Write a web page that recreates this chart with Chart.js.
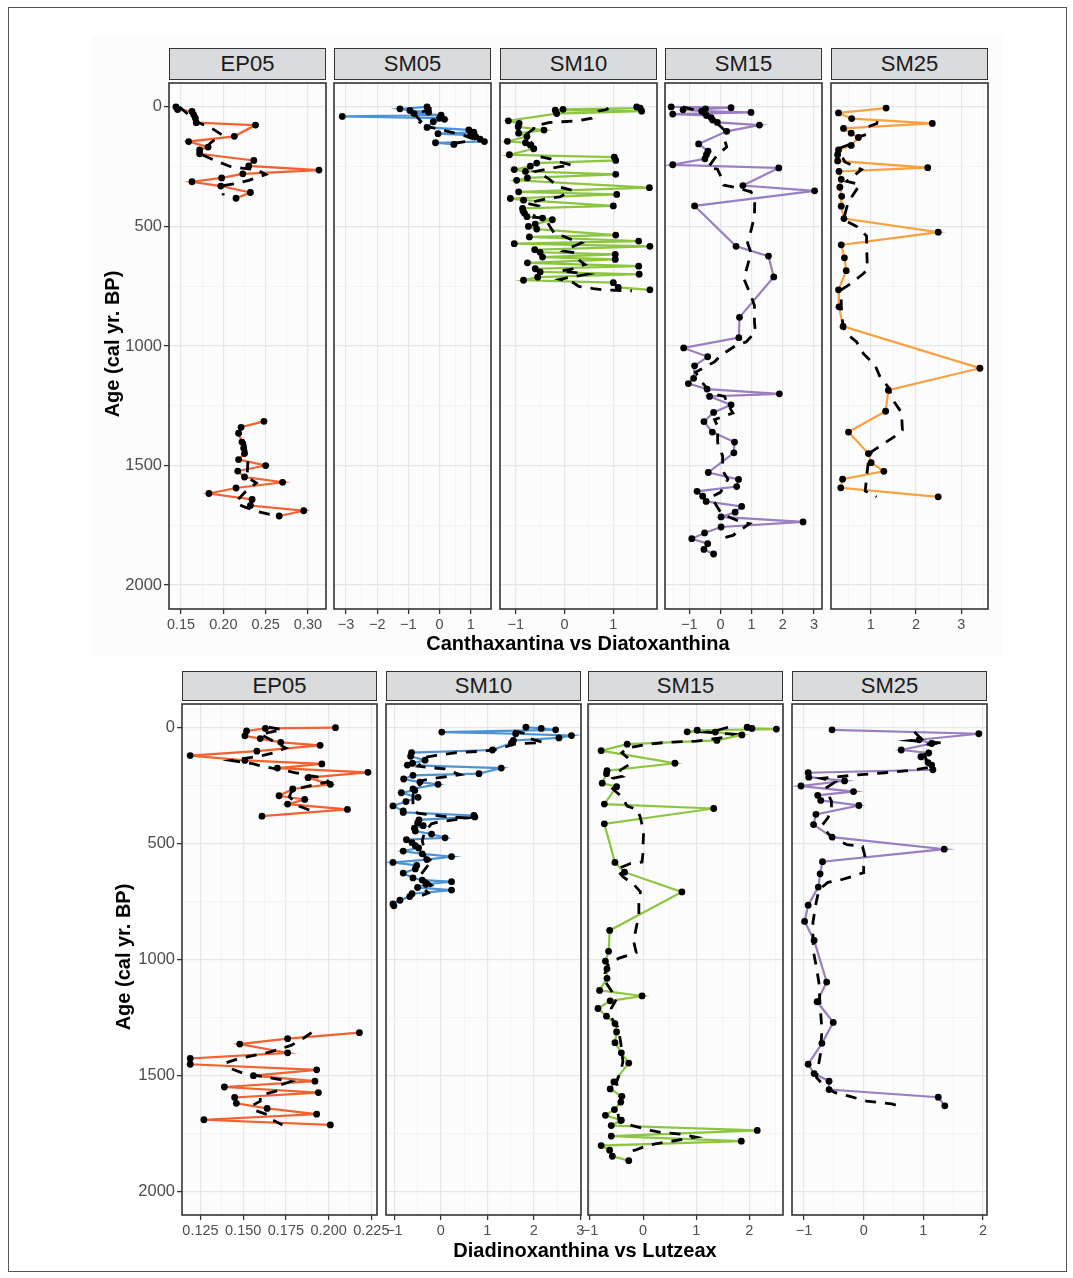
<!DOCTYPE html>
<html>
<head>
<meta charset="utf-8">
<script src="https://cdn.jsdelivr.net/npm/chart.js@4.4.1/dist/chart.umd.min.js"></script>
<style>
  body { margin: 0; background: #fff; font-family: "Liberation Sans", Arial, Helvetica, sans-serif; }
  #fig { position: relative; width: 1073px; height: 1278px; overflow: hidden; }
  .frame { position: absolute; left: 8px; top: 7px; width: 1057px; height: 1263px; border: 1px solid #555; }
  .strip { position: absolute; background: #d9dbdc; border: 1.5px solid #333; box-sizing: border-box;
           text-align: center; font-size: 22px; color: #1a1a1a; }
  .title { position: absolute; font-weight: bold; font-size: 20px; color: #000; text-align: center;
           height: 24px; line-height: 24px; white-space: nowrap; }
  canvas { position: absolute; }
</style>
</head>
<body>
<div id="fig">
  <div class="frame"></div>
  <div style="position:absolute;left:92px;top:35px;width:911px;height:622px;background:#fcfcfc"></div>
</div>
<script>
/* shared age axis */
var AGE_TICKS = [0, 500, 1000, 1500, 2000];
var AGE_RANGE = [-100, 2100];

var TOP_TITLE = 'Canthaxantina vs Diatoxanthina';
var BOT_TITLE = 'Diadinoxanthina vs Lutzeax';
var Y_TITLE   = 'Age (cal yr. BP)';

var TOP_SITES = ['EP05', 'SM05', 'SM10', 'SM15', 'SM25'];
var BOT_SITES = ['EP05', 'SM10', 'SM15', 'SM25'];

/* x tick labels per panel */
var T_EP05_TICKS = [0.15, 0.20, 0.25, 0.30];
var T_SM05_TICKS = [-3, -2, -1, 0, 1];
var T_SM10_TICKS = [-1, 0, 1];
var T_SM15_TICKS = [-1, 0, 1, 2, 3];
var T_SM25_TICKS = [1, 2, 3];
var B_EP05_TICKS = [0.125, 0.150, 0.175, 0.200, 0.225];
var B_SM10_TICKS = [-1, 0, 1, 2, 3];
var B_SM15_TICKS = [-1, 0, 1, 2];
var B_SM25_TICKS = [-1, 0, 1, 2];

/* ---- top row: Canthaxantina vs Diatoxanthina, [age, value] ---- */
var T_EP05_A = [[0,0.144],[11,0.146],[19,0.163],[33,0.165],[47,0.167],[66,0.168],[76,0.238],[123,0.213],[145,0.159],
  [168,0.182],[180,0.172],[196,0.172],[224,0.236],[247,0.230],[264,0.313],[280,0.223],[297,0.198],[313,0.163],
  [331,0.197],[358,0.232],[382,0.215]];
var T_EP05_B = [[1315,0.248],[1340,0.221],[1365,0.218],[1402,0.222],[1427,0.224],[1450,0.225],[1475,0.218],
  [1500,0.250],[1523,0.217],[1548,0.225],[1570,0.270],[1594,0.215],[1617,0.183],[1642,0.234],[1667,0.232],
  [1689,0.295],[1711,0.266]];
var T_EP05_FIT_A = [[0,0.148],[30,0.158],[60,0.167],[93,0.188],[116,0.198],[150,0.185],[170,0.180],[200,0.175],
  [224,0.190],[249,0.208],[256,0.222],[262,0.239],[283,0.250],[307,0.230],[320,0.216],[330,0.198],[370,0.200]];
var T_EP05_FIT_B = [[1400,0.225],[1486,0.229],[1548,0.228],[1573,0.239],[1610,0.226],[1640,0.218],[1656,0.215],
  [1672,0.224],[1693,0.241],[1714,0.267]];

var T_SM05 = [[0,-0.40],[8,-1.27],[15,-0.95],[22,-0.35],[28,-0.82],[34,0.05],[40,-3.12],[47,0.00],[52,0.16],
  [62,-0.20],[86,-0.40],[96,0.94],[106,1.10],[112,-0.05],[118,1.00],[124,1.16],[135,1.30],[145,1.44],[150,-0.13],[157,0.46]];
var T_SM05_FIT = [[0,-0.30],[10,-0.30],[30,-0.80],[60,-0.60],[75,-0.70],[85,-0.30],[100,0.20],[120,0.80],
  [135,1.10],[145,0.80],[152,0.50]];

var T_SM10 = [[0,1.48],[5,1.55],[10,-0.03],[14,-0.19],[18,1.58],[28,-0.16],[58,-1.15],[69,-0.93],[83,-0.95],
  [97,-0.42],[110,-0.94],[124,-0.77],[144,-1.17],[150,-0.80],[160,-0.70],[175,-0.63],[200,-1.13],[210,1.02],
  [224,1.05],[235,-0.57],[248,-0.70],[262,-1.03],[270,-0.80],[282,1.05],[297,-0.76],[307,-0.98],[338,1.74],
  [355,-0.94],[366,1.07],[383,-1.11],[390,-0.84],[414,1.00],[424,-0.86],[435,-0.85],[445,-0.82],[459,-0.77],
  [465,-0.45],[472,-0.25],[490,-0.60],[500,-0.74],[511,-0.57],[536,1.05],[544,-0.72],[561,1.52],[572,-1.03],
  [583,1.75],[597,-0.61],[608,-0.50],[617,1.04],[628,-0.45],[638,1.04],[652,-0.76],[666,1.52],[677,-0.60],
  [690,-0.50],[700,1.53],[712,-0.55],[725,-0.84],[735,1.00],[755,1.10],[765,1.75]];
var T_SM10_FIT = [[5,0.90],[12,0.85],[17,0.70],[47,0.56],[58,0.29],[62,-0.05],[65,-0.30],[80,-0.63],[92,-0.63],
  [113,-0.77],[134,-0.77],[155,-0.65],[182,-0.65],[207,-0.53],[217,-0.29],[230,-0.10],[244,0.15],[250,-0.09],
  [262,-0.40],[270,-0.60],[286,-0.43],[300,-0.33],[334,-0.12],[348,0.15],[376,-0.09],[383,-0.33],[403,-0.77],
  [414,-0.53],[440,-0.60],[461,-0.63],[465,-0.40],[500,-0.30],[534,-0.19],[541,-0.02],[562,0.22],[569,0.34],
  [590,0.10],[603,-0.02],[610,0.22],[645,0.32],[659,0.42],[680,0.12],[686,-0.09],[693,0.22],[700,0.46],
  [715,0.05],[721,-0.09],[735,0.18],[751,0.29],[760,0.59],[766,0.83],[769,1.38]];

var T_SM15 = [[0,-1.58],[3,0.34],[8,-0.48],[12,-1.20],[18,-0.60],[23,0.98],[30,-1.53],[36,-0.45],[45,-0.30],
  [55,-0.25],[65,-0.10],[76,1.25],[102,0.20],[155,-0.70],[185,-0.40],[200,-0.45],[217,-0.50],[242,-1.53],
  [255,1.87],[329,0.72],[351,3.02],[414,-0.83],[583,0.50],[624,1.54],[711,1.71],[880,0.61],[965,0.59],
  [1008,-1.18],[1045,-0.41],[1083,-0.83],[1135,-0.86],[1157,-1.03],[1180,-0.43],[1200,1.89],[1211,-0.35],
  [1246,0.34],[1278,-0.22],[1316,-0.53],[1360,-0.26],[1402,0.45],[1447,0.43],[1529,-0.39],[1558,0.58],
  [1588,0.52],[1608,-0.75],[1628,-0.57],[1650,-0.46],[1671,0.68],[1695,0.47],[1715,0.02],[1736,2.65],
  [1757,0.02],[1782,-0.51],[1806,-0.92],[1827,-0.41],[1851,-0.53],[1870,-0.22]];
var T_SM15_FIT = [[0,-1.20],[10,-0.90],[40,-0.40],[70,-0.10],[100,0.15],[134,0.13],[168,0.20],[200,-0.10],
  [254,-0.40],[260,-0.10],[300,0.05],[327,0.10],[337,0.47],[355,0.98],[392,1.10],[456,1.09],[507,1.00],
  [569,0.87],[610,0.98],[663,0.87],[718,0.75],[790,0.98],[831,1.09],[898,1.09],[942,1.12],[983,0.82],
  [1000,0.47],[1038,0.02],[1066,-0.19],[1110,-0.80],[1150,-0.60],[1198,-0.30],[1211,0.13],[1246,0.24],
  [1280,0.40],[1308,-0.19],[1336,-0.09],[1405,-0.09],[1460,0.07],[1522,0.07],[1557,0.24],[1612,0.00],
  [1632,-0.30],[1688,-0.03],[1708,0.13],[1736,0.66],[1743,0.93],[1792,0.40],[1806,0.00]];

var T_SM25 = [[5,1.34],[25,0.29],[49,0.58],[69,2.36],[90,0.40],[110,0.57],[128,0.73],[161,0.57],[180,0.29],
  [200,0.27],[226,0.27],[254,2.26],[270,0.30],[303,0.35],[336,0.32],[374,0.36],[415,0.35],[467,0.41],
  [524,2.49],[577,0.35],[631,0.42],[685,0.46],[765,0.29],[836,0.30],[918,0.39],[1093,3.41],[1185,1.39],
  [1273,1.33],[1360,0.51],[1450,0.95],[1488,1.01],[1524,1.29],[1557,0.38],[1593,0.34],[1631,2.49]];
var T_SM25_FIT = [[60,1.15],[70,1.13],[82,0.95],[115,0.91],[128,0.69],[156,0.54],[172,0.32],[200,0.35],
  [230,0.43],[262,0.80],[311,0.47],[325,0.76],[400,0.50],[472,0.40],[500,0.69],[540,0.91],[590,0.91],
  [680,0.93],[697,0.84],[737,0.58],[765,0.35],[836,0.35],[900,0.38],[942,0.43],[983,0.69],[1032,0.84],
  [1082,1.10],[1131,1.21],[1172,1.39],[1229,1.50],[1278,1.68],[1352,1.70],[1377,1.54],[1409,1.28],
  [1442,1.02],[1480,0.95],[1530,0.92],[1606,0.88],[1631,1.13]];

/* ---- bottom row: Diadinoxanthina vs Lutzeax, [age, value] ---- */
var B_EP05_A = [[2,0.204],[5,0.163],[16,0.152],[37,0.151],[49,0.160],[65,0.172],[78,0.195],[103,0.158],
  [122,0.119],[143,0.151],[158,0.196],[176,0.170],[194,0.223],[217,0.188],[246,0.201],[266,0.179],
  [295,0.171],[311,0.186],[331,0.176],[354,0.211],[383,0.161]];
var B_EP05_B = [[1315,0.218],[1341,0.176],[1364,0.148],[1402,0.176],[1426,0.119],[1451,0.119],[1475,0.193],
  [1500,0.156],[1524,0.192],[1549,0.139],[1573,0.194],[1594,0.145],[1619,0.146],[1641,0.164],[1666,0.193],
  [1690,0.127],[1712,0.201]];
var B_EP05_FIT_A = [[0,0.165],[11,0.173],[30,0.160],[50,0.165],[70,0.170],[90,0.175],[110,0.168],[122,0.161],
  [135,0.150],[143,0.143],[158,0.156],[168,0.161],[180,0.170],[195,0.180],[210,0.190],[220,0.198],[235,0.200],
  [250,0.190],[262,0.183],[280,0.178],[300,0.177],[320,0.180],[340,0.183],[360,0.190]];
var B_EP05_FIT_B = [[1315,0.190],[1340,0.185],[1370,0.178],[1400,0.165],[1425,0.148],[1445,0.140],[1470,0.143],
  [1490,0.150],[1505,0.162],[1525,0.178],[1545,0.170],[1565,0.170],[1585,0.160],[1610,0.160],[1630,0.155],
  [1650,0.157],[1670,0.165],[1690,0.167],[1712,0.173]];

var B_SM10 = [[0,1.83],[5,2.16],[11,2.47],[21,0.02],[28,1.61],[36,2.81],[46,2.54],[57,1.56],[68,1.52],[98,1.11],
  [109,-0.63],[125,-0.65],[142,-0.34],[155,-0.61],[163,-0.72],[176,1.30],[200,0.82],[207,-0.60],[223,-0.80],
  [236,-0.45],[246,-0.06],[265,-0.60],[272,-0.56],[282,-0.85],[302,-0.49],[320,-0.75],[339,-1.03],[360,-0.81],
  [367,-0.81],[380,0.71],[386,0.73],[399,-0.47],[412,-0.50],[424,-0.38],[435,-0.57],[447,-0.55],[460,-0.20],
  [476,0.09],[484,-0.74],[497,-0.62],[510,-0.55],[520,-0.48],[533,-0.81],[545,-0.40],[557,0.23],[570,-0.30],
  [582,-1.03],[595,-0.52],[610,-0.55],[628,-0.81],[649,-0.60],[658,-0.40],[665,0.23],[676,-0.32],[690,-0.50],
  [701,0.23],[717,-0.62],[729,-0.67],[745,-0.88],[761,-1.03],[769,-1.01]];
var B_SM10_FIT = [[16,1.57],[28,1.84],[49,1.91],[65,2.20],[73,1.56],[93,1.27],[103,0.91],[109,0.34],[122,-0.13],
  [130,-0.34],[150,-0.40],[168,-0.49],[174,-0.24],[179,0.09],[204,0.41],[220,-0.13],[228,-0.38],[260,-0.50],
  [290,-0.60],[320,-0.60],[350,-0.60],[370,-0.50],[383,0.01],[391,0.55],[408,-0.06],[416,-0.20],[450,-0.35],
  [490,-0.40],[530,-0.35],[566,-0.34],[574,-0.16],[600,-0.30],[640,-0.45],[680,-0.20],[693,-0.38],[714,-0.27],[725,-0.42]];

var B_SM15 = [[0,1.96],[5,2.05],[8,2.51],[13,1.02],[20,0.83],[21,1.36],[33,1.86],[57,1.39],[73,-0.30],[101,-0.79],
  [155,0.60],[187,-0.68],[200,-0.69],[241,-0.77],[256,-0.50],[331,-0.73],[350,1.33],[416,-0.73],[582,-0.53],
  [624,-0.35],[709,0.73],[875,-0.63],[965,-0.65],[1007,-0.71],[1040,-0.68],[1081,-0.68],[1133,-0.82],[1157,-0.02],
  [1178,-0.62],[1211,-0.85],[1244,-0.69],[1276,-0.53],[1312,-0.50],[1358,-0.53],[1402,-0.41],[1446,-0.27],
  [1527,-0.55],[1557,-0.62],[1589,-0.40],[1614,-0.42],[1646,-0.54],[1671,-0.71],[1692,-0.41],[1715,-0.60],
  [1736,2.15],[1760,-0.60],[1782,1.85],[1801,-0.79],[1821,-0.63],[1847,-0.58],[1866,-0.27]];
var B_SM15_FIT = [[0,1.60],[13,1.40],[21,1.20],[30,1.70],[45,1.50],[60,1.00],[65,0.45],[73,0.08],[90,-0.30],
  [110,-0.40],[130,-0.30],[147,-0.24],[158,-0.24],[180,-0.40],[200,-0.50],[212,-0.40],[220,-0.58],[260,-0.60],
  [300,-0.40],[340,-0.30],[355,-0.10],[391,-0.05],[448,0.01],[505,0.00],[538,0.00],[580,-0.02],[587,-0.24],
  [611,-0.50],[644,-0.38],[676,-0.18],[709,-0.05],[758,-0.08],[807,-0.08],[920,-0.18],[970,-0.13],[994,-0.45],
  [1019,-0.65],[1060,-0.72],[1100,-0.70],[1150,-0.55],[1170,-0.50],[1210,-0.60],[1250,-0.60],[1290,-0.48],
  [1320,-0.45],[1360,-0.42],[1400,-0.40],[1440,-0.38],[1480,-0.42],[1527,-0.50],[1557,-0.48],[1600,-0.42],
  [1650,-0.48],[1700,-0.45],[1736,0.14],[1745,0.36],[1752,0.70],[1765,0.99],[1793,0.26],[1801,0.08],
  [1821,-0.15],[1830,-0.35]];

var B_SM25 = [[11,-0.53],[28,1.93],[54,0.93],[70,1.14],[98,0.63],[111,1.09],[127,0.96],[152,1.08],[163,1.14],
  [183,1.16],[196,-0.93],[215,-0.92],[231,-0.32],[253,-1.05],[277,-0.17],[293,-0.77],[315,-0.72],[337,-0.08],
  [375,-0.80],[419,-0.84],[473,-0.53],[525,1.35],[579,-0.69],[631,-0.73],[688,-0.76],[766,-0.93],[836,-0.99],
  [918,-0.83],[1097,-0.62],[1182,-0.78],[1271,-0.51],[1361,-0.70],[1451,-0.93],[1491,-0.83],[1524,-0.58],
  [1560,-0.58],[1593,1.25],[1630,1.36]];
var B_SM25_FIT = [[20,0.85],[51,0.97],[57,0.79],[68,1.34],[73,1.08],[100,1.00],[140,1.05],[171,1.14],[185,0.80],
  [196,0.36],[205,-0.10],[215,-0.50],[220,-0.70],[236,-0.48],[260,-0.62],[277,-0.62],[318,-0.54],[359,-0.54],
  [390,-0.60],[424,-0.70],[456,-0.60],[481,-0.50],[505,-0.28],[513,-0.02],[554,0.02],[600,0.00],[626,0.00],
  [643,-0.20],[660,-0.42],[668,-0.60],[700,-0.75],[760,-0.80],[840,-0.85],[900,-0.85],[970,-0.84],[1035,-0.79],
  [1100,-0.75],[1200,-0.73],[1300,-0.70],[1400,-0.72],[1460,-0.76],[1508,-0.79],[1548,-0.65],[1573,-0.48],
  [1589,-0.23],[1610,0.05],[1622,0.47],[1635,0.66]];

/* colours */
var C_RED = '#f2612f', C_BLUE = '#4c93d6', C_GREEN = '#8cc540', C_PURPLE = '#9b7ec1', C_ORANGE = '#f9a03f';

Chart.defaults.font.family = '"Liberation Sans", Arial, Helvetica, sans-serif';
var fig = document.getElementById('fig');

function minus(v) { return String(v).replace('-', '\u2212'); }
function fmt2(v) { return v.toFixed(2); }
function fmt3(v) { return v.toFixed(3); }
function fmtInt(v) { return minus(Math.round(v)); }

/* major ticks plus half-step minor ticks inside [lo, hi] */
function withMinor(major, lo, hi) {
  var step = (major[1] - major[0]) / 2, out = [];
  var v = major[0];
  while (v - step >= lo - 1e-9) v -= step;
  for (; v <= hi + 1e-9; v += step) out.push(Math.round(v * 1e6) / 1e6);
  return out;
}
function isMajor(list, v) {
  return list.some(function (m) { return Math.abs(m - v) < 1e-7; });
}
function toXY(arr) { return arr.map(function (p) { return { x: p[1], y: p[0] }; }); }

var panelFrame = {
  id: 'panelFrame',
  beforeDraw: function (c) {
    var a = c.chartArea, ctx = c.ctx;
    ctx.save(); ctx.fillStyle = '#fcfcfc';
    ctx.fillRect(a.left, a.top, a.right - a.left, a.bottom - a.top); ctx.restore();
  },
  afterDraw: function (c) {
    var a = c.chartArea, ctx = c.ctx;
    ctx.save(); ctx.strokeStyle = '#333'; ctx.lineWidth = 1.6;
    ctx.strokeRect(a.left, a.top, a.right - a.left, a.bottom - a.top); ctx.restore();
  }
};

function drawPanel(o) {
  var padL = o.showY ? 80 : 24, padR = 24, padB = 34;
  var W = o.w + padL + padR, H = o.h + padB;
  var cv = document.createElement('canvas');
  cv.width = W; cv.height = H;
  cv.style.left = (o.x - padL) + 'px'; cv.style.top = o.y + 'px';
  cv.style.width = W + 'px'; cv.style.height = H + 'px';
  fig.appendChild(cv);

  var strip = document.createElement('div');
  strip.className = 'strip';
  strip.style.cssText = 'left:' + o.x + 'px;top:' + o.stripTop + 'px;width:' + o.w + 'px;height:' +
    (o.y - o.stripTop + 1) + 'px;line-height:' + (o.y - o.stripTop - 2) + 'px';
  strip.textContent = o.name;
  fig.appendChild(strip);

  var xt = withMinor(o.ticks, o.xr[0], o.xr[1]);
  var yt = withMinor(AGE_TICKS, AGE_RANGE[0], AGE_RANGE[1]);

  var ds = [];
  o.fits.forEach(function (f) {
    ds.push({ data: toXY(f), showLine: true, borderColor: '#000', borderWidth: 2.8,
              borderDash: [11, 9], pointRadius: 0, tension: 0 });
  });
  o.series.forEach(function (s) {
    ds.push({ data: toXY(s), showLine: true, borderColor: o.color, borderWidth: 2.2,
              pointRadius: 3.4, pointBackgroundColor: '#000', pointBorderWidth: 0, tension: 0 });
  });

  new Chart(cv, {
    type: 'scatter',
    data: { datasets: ds },
    plugins: [panelFrame],
    options: {
      responsive: false, animation: false, devicePixelRatio: 1, events: [],
      layout: { padding: { left: o.showY ? 0 : padL, right: padR, top: 0, bottom: 0 } },
      plugins: { legend: { display: false }, tooltip: { enabled: false } },
      scales: {
        x: {
          type: 'linear', min: o.xr[0], max: o.xr[1], bounds: 'data',
          afterBuildTicks: function (s) { s.ticks = xt.map(function (v) { return { value: v }; }); },
          afterFit: function (s) { s.height = padB; s.paddingLeft = 0; s.paddingRight = 0; },
          border: { display: false },
          grid: {
            color: function (c) { return c.tick && isMajor(o.ticks, c.tick.value) ? '#e3e7e8' : '#eef0f1'; },
            lineWidth: function (c) { return c.tick && isMajor(o.ticks, c.tick.value) ? 1.2 : 0.8; },
            tickLength: 5, tickWidth: 1.3,
            tickColor: function (c) { return c.tick && isMajor(o.ticks, c.tick.value) ? '#333' : 'rgba(0,0,0,0)'; }
          },
          ticks: {
            autoSkip: false, maxRotation: 0, minRotation: 0, padding: 2, color: '#4d4d4d',
            font: { size: 14.5 },
            callback: function (v) { return isMajor(o.ticks, v) ? o.fmt(v) : ''; }
          }
        },
        y: {
          type: 'linear', reverse: true, min: AGE_RANGE[0], max: AGE_RANGE[1], bounds: 'data',
          afterBuildTicks: function (s) { s.ticks = yt.map(function (v) { return { value: v }; }); },
          afterFit: function (s) { s.width = o.showY ? padL : 0; s.paddingTop = 0; s.paddingBottom = 0; },
          border: { display: false },
          grid: {
            color: function (c) { return c.tick && isMajor(AGE_TICKS, c.tick.value) ? '#e3e7e8' : '#eef0f1'; },
            lineWidth: function (c) { return c.tick && isMajor(AGE_TICKS, c.tick.value) ? 1.2 : 0.8; },
            drawTicks: o.showY, tickLength: 5, tickWidth: 1.3,
            tickColor: function (c) { return c.tick && isMajor(AGE_TICKS, c.tick.value) ? '#333' : 'rgba(0,0,0,0)'; }
          },
          ticks: {
            display: o.showY, autoSkip: false, padding: 2, color: '#4d4d4d', font: { size: 16.5 },
            callback: function (v) { return isMajor(AGE_TICKS, v) ? String(v) : ''; }
          }
        }
      }
    }
  });
}

function addTitle(text, cx, cy, rotate) {
  var d = document.createElement('div');
  d.className = 'title';
  d.style.left = (cx - 300) + 'px'; d.style.top = (cy - 12) + 'px'; d.style.width = '600px';
  if (rotate) d.style.transform = 'rotate(-90deg)';
  d.textContent = text;
  fig.appendChild(d);
}

/* layout of the two facet rows */
var TOP_X = [169, 334, 500, 665, 831], TOP_W = 157, TOP_STRIP = 48, TOP_PLOT = 79, TOP_H = 530;
var BOT_X = [182, 386, 588, 792], BOT_W = 195, BOT_STRIP = 671, BOT_PLOT = 700, BOT_H = 515;

var topCfg = [
  { xr: [0.1358, 0.3213], ticks: T_EP05_TICKS, fmt: fmt2, color: C_RED, series: [T_EP05_A, T_EP05_B], fits: [T_EP05_FIT_A, T_EP05_FIT_B] },
  { xr: [-3.385, 1.65], ticks: T_SM05_TICKS, fmt: fmtInt, color: C_BLUE, series: [T_SM05], fits: [T_SM05_FIT] },
  { xr: [-1.322, 1.895], ticks: T_SM10_TICKS, fmt: fmtInt, color: C_GREEN, series: [T_SM10], fits: [T_SM10_FIT] },
  { xr: [-1.779, 3.257], ticks: T_SM15_TICKS, fmt: fmtInt, color: C_PURPLE, series: [T_SM15], fits: [T_SM15_FIT] },
  { xr: [0.124, 3.589], ticks: T_SM25_TICKS, fmt: fmtInt, color: C_ORANGE, series: [T_SM25], fits: [T_SM25_FIT] }
];
var botCfg = [
  { xr: [0.1142, 0.2283], ticks: B_EP05_TICKS, fmt: fmt3, color: C_RED, series: [B_EP05_A, B_EP05_B], fits: [B_EP05_FIT_A, B_EP05_FIT_B] },
  { xr: [-1.18, 3.015], ticks: B_SM10_TICKS, fmt: fmtInt, color: C_BLUE, series: [B_SM10], fits: [B_SM10_FIT] },
  { xr: [-1.038, 2.635], ticks: B_SM15_TICKS, fmt: fmtInt, color: C_GREEN, series: [B_SM15], fits: [B_SM15_FIT] },
  { xr: [-1.201, 2.067], ticks: B_SM25_TICKS, fmt: fmtInt, color: C_PURPLE, series: [B_SM25], fits: [B_SM25_FIT] }
];

topCfg.forEach(function (c, i) {
  c.name = TOP_SITES[i]; c.x = TOP_X[i]; c.w = TOP_W; c.y = TOP_PLOT; c.h = TOP_H;
  c.stripTop = TOP_STRIP; c.showY = i === 0;
  drawPanel(c);
});
botCfg.forEach(function (c, i) {
  c.name = BOT_SITES[i]; c.x = BOT_X[i]; c.w = BOT_W; c.y = BOT_PLOT; c.h = BOT_H;
  c.stripTop = BOT_STRIP; c.showY = i === 0;
  drawPanel(c);
});

addTitle(TOP_TITLE, 578, 643, false);
addTitle(BOT_TITLE, 585, 1250, false);
addTitle(Y_TITLE, 112, 344, true);
addTitle(Y_TITLE, 123, 957, true);
</script>
</body>
</html>
